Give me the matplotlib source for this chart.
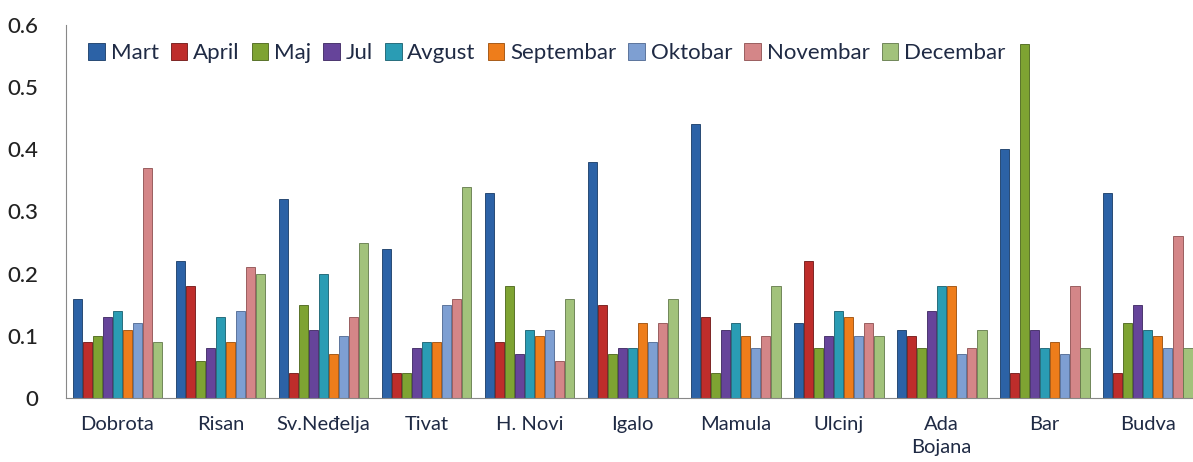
import numpy as np
import matplotlib.pyplot as plt

# ==== DATA ====
locations = ["Dobrota", "Risan", "Sv.Neđelja", "Tivat", "H. Novi", "Igalo",
             "Mamula", "Ulcinj", "Ada\nBojana", "Bar", "Budva"]
months = ["Mart", "April", "Maj", "Jul", "Avgust", "Septembar",
          "Oktobar", "Novembar", "Decembar"]

mart      = [0.16, 0.22, 0.32, 0.24, 0.33, 0.38, 0.44, 0.12, 0.11, 0.40, 0.33]
april     = [0.09, 0.18, 0.04, 0.04, 0.09, 0.15, 0.13, 0.22, 0.10, 0.04, 0.04]
maj       = [0.10, 0.06, 0.15, 0.04, 0.18, 0.07, 0.04, 0.08, 0.08, 0.57, 0.12]
jul       = [0.13, 0.08, 0.11, 0.08, 0.07, 0.08, 0.11, 0.10, 0.14, 0.11, 0.15]
avgust    = [0.14, 0.13, 0.20, 0.09, 0.11, 0.08, 0.12, 0.14, 0.18, 0.08, 0.11]
septembar = [0.11, 0.09, 0.07, 0.09, 0.10, 0.12, 0.10, 0.13, 0.18, 0.09, 0.10]
oktobar   = [0.12, 0.14, 0.10, 0.15, 0.11, 0.09, 0.08, 0.10, 0.07, 0.07, 0.08]
novembar  = [0.37, 0.21, 0.13, 0.16, 0.06, 0.12, 0.10, 0.12, 0.08, 0.18, 0.26]
decembar  = [0.09, 0.20, 0.25, 0.34, 0.16, 0.16, 0.18, 0.10, 0.11, 0.08, 0.08]

series = [mart, april, maj, jul, avgust, septembar, oktobar, novembar, decembar]

colors = ["#2C62A6", "#BE2D2B", "#7EA332", "#66449A", "#2A9CB4",
          "#EE7D1B", "#7E9FD2", "#D48688", "#A2C27B"]
edges = ["#173A66", "#6E1514", "#4A6419", "#3B2560", "#165E6E",
         "#9A4C08", "#4D6690", "#8E4F50", "#62784A"]

plt.rcParams['font.family'] = ['Lato', 'DejaVu Sans']

fig = plt.figure(figsize=(11.93, 4.62), dpi=100)
ax = fig.add_axes([0.0553, 0.1385, 0.9447, 0.8075])

x = np.arange(len(locations))
n = len(series)
group_w = 0.88
w = group_w / n

for i, (vals, lab) in enumerate(zip(series, months)):
    ax.bar(x - group_w / 2 + w * (i + 0.5), vals, width=w * 0.92,
           color=colors[i], edgecolor=edges[i], linewidth=0.6, label=lab)

ax.set_xlim(-0.5, 10.44)
ax.set_ylim(0, 0.6)
ax.set_yticks([0, 0.1, 0.2, 0.3, 0.4, 0.5, 0.6])
ax.set_yticklabels(["0", "0.1", "0.2", "0.3", "0.4", "0.5", "0.6"])
ax.set_xticks(x)
ax.set_xticklabels(locations, va="top", linespacing=1.45)

ax.tick_params(axis="y", length=0, pad=20, labelsize=16, labelcolor="#222222")
ax.tick_params(axis="x", length=0, pad=13, labelsize=14.5, labelcolor="#1F2A44")
for lbl in ax.get_yticklabels():
    lbl.set_fontweight("medium")

for s in ["top", "right"]:
    ax.spines[s].set_visible(False)
ax.spines["left"].set_color("#888888")
ax.spines["bottom"].set_color("#888888")

ax.legend(ncol=9, loc="upper left", bbox_to_anchor=(0.012, 0.975),
          frameon=False, fontsize=16, handlelength=0.75, handleheight=0.75,
          handletextpad=0.25, columnspacing=0.55, borderaxespad=0,
          labelcolor="#1F2A44")

fig.savefig("out.png", dpi=100)
